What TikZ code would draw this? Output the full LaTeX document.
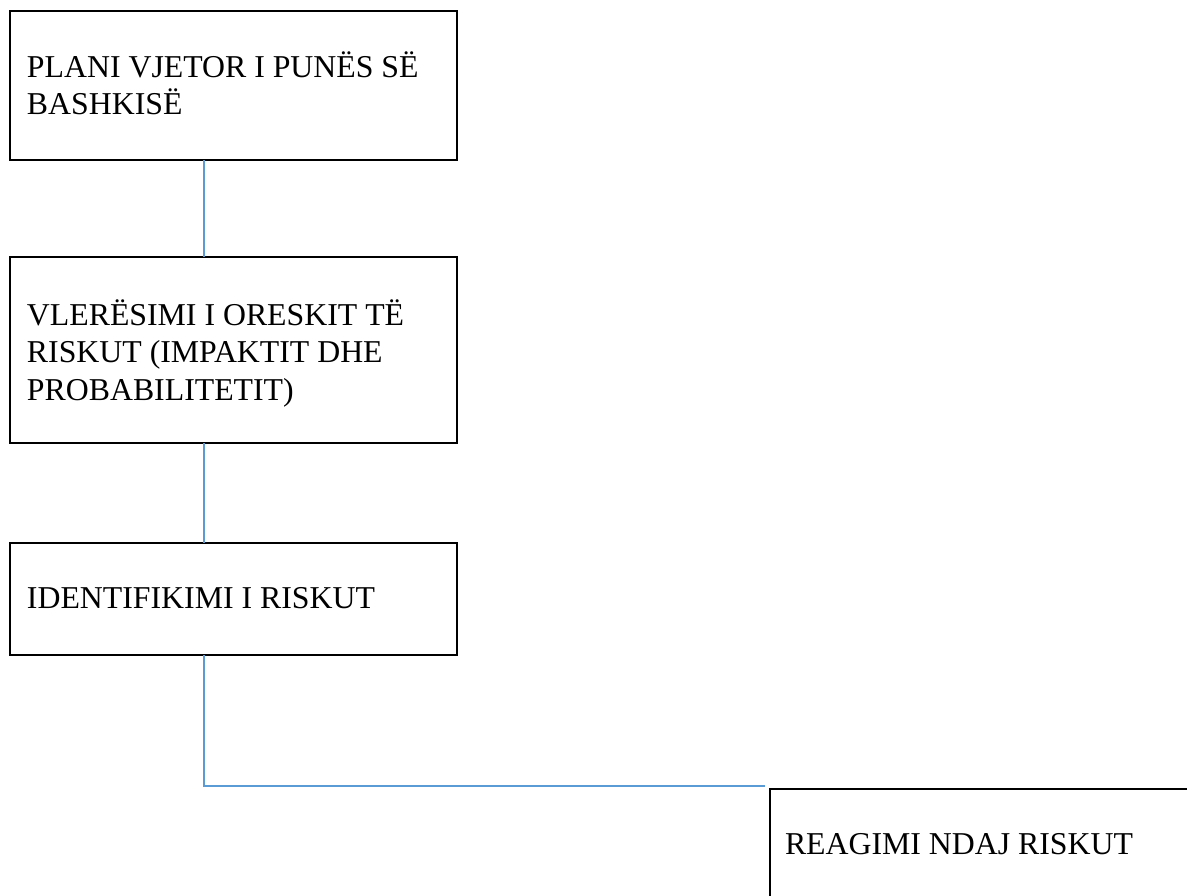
\documentclass[tikz,border=0pt]{standalone}
\usepackage{fontspec}
\setmainfont{Liberation Serif}
\definecolor{connblue}{RGB}{91,155,213}
\begin{document}
\begin{tikzpicture}[x=1pt,y=-1pt,
  stepbox/.style={draw=black, line width=2pt, rectangle, inner sep=0pt, outer sep=0pt, anchor=north west},
  boxtext/.style={anchor=base west, inner sep=0pt, outer sep=0pt, align=left, font=\fontsize{31.8}{37.4}\selectfont},
  conn/.style={draw=connblue, line width=2pt}]
\useasboundingbox (0,0) rectangle (1187,896);
\clip (0,0) rectangle (1187,896);
\coordinate (cx) at (203.5,0);
\node[stepbox, minimum width=447pt, minimum height=149pt] (b1) at (10,11) {};
\node[stepbox, minimum width=447pt, minimum height=186pt] (b2) at (10,257) {};
\node[stepbox, minimum width=447pt, minimum height=112pt] (b3) at (10,543) {};
\node[stepbox, minimum width=500pt, minimum height=200pt] (b4) at (770,789) {};
% base anchor of a multi-line node is the baseline of its last line
\node[boxtext] (t1) at (27,115) {PLANI VJETOR I PUNËS SË\\BASHKISË};
\node[boxtext] (t2) at (27,400) {VLERËSIMI I ORESKIT TË\\RISKUT (IMPAKTIT DHE\\PROBABILITETIT)};
\node[boxtext] (t3) at (27,608) {IDENTIFIKIMI I RISKUT};
\node[boxtext] (t4) at (785,854) {REAGIMI NDAJ RISKUT};
\coordinate (e) at (765,786);
\draw[conn] (b1.south -| cx) -- (b2.north -| cx);
\draw[conn] (b2.south -| cx) -- (b3.north -| cx);
\draw[conn] (b3.south -| cx) |- (e);
\end{tikzpicture}
\end{document}
